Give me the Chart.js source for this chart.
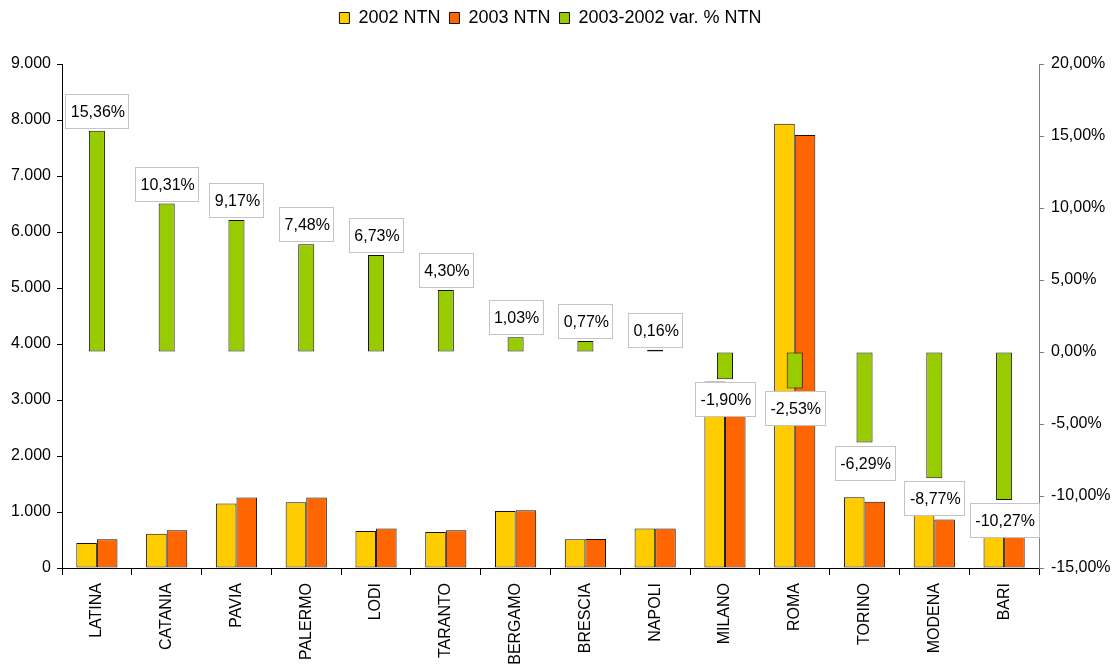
<!DOCTYPE html>
<html><head><meta charset="utf-8">
<script src="https://cdn.jsdelivr.net/npm/chart.js@4/dist/chart.umd.min.js"></script>
<style>html,body{margin:0;padding:0;background:#fff}canvas{display:block}</style>
</head><body>
<canvas id="c" width="1115" height="670"></canvas>
<script>
const categories = ['LATINA','CATANIA','PAVIA','PALERMO','LODI','TARANTO','BERGAMO','BRESCIA','NAPOLI','MILANO','ROMA','TORINO','MODENA','BARI'];
const ntn2002 = [445, 612, 1152, 1172, 660, 645, 1020, 513, 704, 3330, 7935, 1262, 950, 700];
const ntn2003 = [513, 675, 1258, 1260, 704, 674, 1030, 517, 705, 3267, 7734, 1183, 866, 628];
const varPct  = [15.36, 10.31, 9.17, 7.48, 6.73, 4.30, 1.03, 0.77, 0.16, -1.90, -2.53, -6.29, -8.77, -10.27];
const seriesNames = ['2002 NTN', '2003 NTN', '2003-2002 var. % NTN'];

const FONT = "'Liberation Sans', Arial, sans-serif";
function fmtThousands(v){ return String(v).replace(/\B(?=(\d{3})+(?!\d))/g, '.'); }
function fmtPct(v){ return v.toFixed(2).replace('.', ',') + '%'; }

const labelPlugin = {
  id: 'varLabels',
  afterDatasetsDraw(chart) {
    const meta = chart.getDatasetMeta(2);
    const ctx = chart.ctx;
    ctx.save();
    ctx.font = '16px ' + FONT;
    ctx.textAlign = 'center';
    ctx.textBaseline = 'middle';
    meta.data.forEach((bar, i) => {
      const v = varPct[i];
      const txt = fmtPct(v);
      const w = Math.round(ctx.measureText(txt).width + 9);
      const h = 34;
      const cx = bar.x;
      let top;
      if (v >= 0) top = bar.y - 3 - h; else top = bar.y + 3;
      const left = Math.round(cx - w / 2) + 0.5;
      top = Math.round(top) + 0.5;
      ctx.fillStyle = '#ffffff';
      ctx.fillRect(left, top, w, h);
      ctx.strokeStyle = '#c4c4c4';
      ctx.lineWidth = 1;
      ctx.strokeRect(left, top, w, h);
      ctx.fillStyle = '#000000';
      ctx.fillText(txt, cx + 1, top + h / 2 + 1);
    });
    ctx.restore();
  }
};

const chart = new Chart(document.getElementById('c'), {
  type: 'bar',
  data: {
    labels: categories,
    datasets: [
      { label: seriesNames[0], data: ntn2002, yAxisID: 'y', backgroundColor: '#FFCC00', borderColor: '#111', borderWidth: 1, borderSkipped: false, categoryPercentage: 0.59, barPercentage: 1.0, order: 0 },
      { label: seriesNames[1], data: ntn2003, yAxisID: 'y', backgroundColor: '#FF6600', borderColor: '#111', borderWidth: 1, borderSkipped: false, categoryPercentage: 0.59, barPercentage: 1.0, order: 0 },
      { label: seriesNames[2], data: varPct, yAxisID: 'y1', backgroundColor: '#99CC00', borderColor: '#111', borderWidth: 1, borderSkipped: false, grouped: false, categoryPercentage: 1.0, barPercentage: 0.23, order: -1 }
    ]
  },
  options: {
    responsive: false,
    animation: false,
    devicePixelRatio: 1,
    layout: { padding: 0 },
    plugins: {
      legend: {
        position: 'top',
        fullSize: false,
        labels: {
          font: { family: FONT, size: 18 },
          color: '#000',
          boxWidth: 10,
          boxHeight: 11,
          padding: 9,
          sort: (a, b) => a.datasetIndex - b.datasetIndex
        }
      },
      tooltip: { enabled: false }
    },
    scales: {
      x: {
        type: 'category',
        offset: true,
        grid: { display: true, drawOnChartArea: false, offset: true, tickLength: 7, color: '#000' },
        border: { color: '#000', width: 1 },
        ticks: { minRotation: 90, maxRotation: 90, autoSkip: false, padding: 8, color: '#000', font: { family: FONT, size: 16 } },
        afterFit: (s) => { s.height = 102; }
      },
      y: {
        position: 'left',
        min: 0, max: 9000,
        ticks: { stepSize: 1000, color: '#000', padding: 6, font: { family: FONT, size: 16 }, callback: (v) => fmtThousands(v) },
        grid: { drawOnChartArea: false, tickLength: 5, color: '#000' },
        border: { color: '#000', width: 1 },
        afterFit: (s) => { s.width = 62; }
      },
      y1: {
        position: 'right',
        min: -15, max: 20,
        ticks: { stepSize: 5, color: '#000', padding: 7, font: { family: FONT, size: 16 }, callback: (v) => fmtPct(v) },
        grid: { drawOnChartArea: false, tickLength: 5, color: '#808080' },
        border: { color: '#808080', width: 1 },
        afterFit: (s) => { s.width = 76; }
      }
    }
  },
  plugins: [labelPlugin]
});
const origFit = chart.legend.fit;
chart.legend.fit = function () { origFit.call(this); this.height = 64; };
chart.update();
</script>
</body></html>
